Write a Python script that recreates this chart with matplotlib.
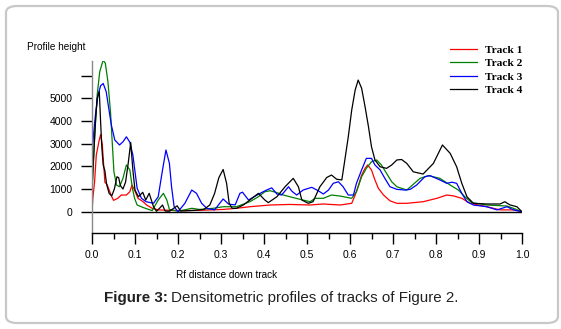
import matplotlib
matplotlib.use("Agg")
import matplotlib.pyplot as plt
from matplotlib.patches import FancyBboxPatch
import numpy as np

# ---------------- data ----------------
track_names = ["Track 1", "Track 2", "Track 3", "Track 4"]
track_colors = ["#ff0000", "#008000", "#0000ff", "#000000"]

t1_rf = [0, 0.002, 0.006, 0.01, 0.016, 0.02, 0.024, 0.027, 0.03, 0.035, 0.039, 0.045, 0.05, 0.06, 0.068, 0.08,
         0.088, 0.093, 0.099, 0.107, 0.119, 0.127, 0.14, 0.154, 0.2, 0.25, 0.305, 0.336, 0.367, 0.414, 0.46,
         0.507, 0.538, 0.577, 0.604, 0.612, 0.62, 0.627, 0.635, 0.641, 0.65, 0.658, 0.666, 0.678, 0.693, 0.709,
         0.732, 0.77, 0.802, 0.825, 0.84, 0.86, 0.879, 0.918, 0.949, 0.98, 1.0]
t1_val = [0, 590, 1320, 2500, 3080, 3400, 2940, 2100, 1300, 1200, 1000, 700, 500, 590, 735, 735,
          880, 1175, 955, 590, 440, 295, 150, 80, 50, 60, 100, 150, 220, 295, 320,
          295, 340, 295, 370, 735, 1175, 1615, 1910, 2060, 1840, 1400, 1030, 735, 480, 370,
          370, 440, 590, 735, 700, 590, 370, 220, 80, 80, 0]

t2_rf = [0, 0.006, 0.012, 0.018, 0.026, 0.031, 0.037, 0.043, 0.047, 0.051, 0.057, 0.064, 0.072, 0.08, 0.088,
         0.094, 0.099, 0.105, 0.119, 0.127, 0.14, 0.154, 0.166, 0.174, 0.18, 0.2, 0.22, 0.232, 0.25, 0.282,
         0.305, 0.336, 0.367, 0.387, 0.402, 0.414, 0.43, 0.445, 0.46, 0.484, 0.507, 0.519, 0.538, 0.557,
         0.577, 0.604, 0.615, 0.627, 0.638, 0.65, 0.662, 0.673, 0.685, 0.697, 0.709, 0.732, 0.763, 0.782,
         0.809, 0.833, 0.852, 0.867, 0.883, 0.918, 0.965, 0.98, 1.0]
t2_val = [800, 3230, 5140, 6170, 6680, 6540, 5730, 4400, 3080, 1760, 1175, 1100, 1470, 2060, 1840,
          1030, 590, 295, 185, 130, 50, 515, 810, 515, 100, 20, 100, 150, 100, 150,
          220, 220, 440, 660, 880, 925, 840, 735, 660, 545, 440, 590, 590, 735,
          690, 590, 880, 1540, 1910, 2200, 2280, 2060, 1690, 1320, 1100, 955, 1470, 1590,
          1470, 1175, 955, 660, 400, 295, 250, 150, 0]

t3_rf = [0, 0.004, 0.008, 0.014, 0.02, 0.026, 0.033, 0.039, 0.045, 0.053, 0.064, 0.072, 0.08, 0.088, 0.095,
         0.099, 0.105, 0.115, 0.126, 0.143, 0.154, 0.164, 0.172, 0.18, 0.185, 0.191, 0.2, 0.216, 0.232,
         0.243, 0.255, 0.267, 0.285, 0.305, 0.318, 0.333, 0.344, 0.35, 0.364, 0.377, 0.391, 0.406, 0.418,
         0.43, 0.441, 0.457, 0.465, 0.476, 0.491, 0.511, 0.526, 0.538, 0.55, 0.561, 0.573, 0.584, 0.596,
         0.608, 0.615, 0.627, 0.638, 0.65, 0.658, 0.67, 0.681, 0.693, 0.709, 0.728, 0.74, 0.755, 0.774,
         0.786, 0.809, 0.825, 0.837, 0.848, 0.86, 0.872, 0.887, 0.918, 0.942, 0.965, 0.98, 1.0]
t3_val = [2500, 3500, 4260, 5140, 5550, 5650, 5290, 4550, 3820, 3160, 2940, 3080, 3300, 3060, 2500,
          1910, 1030, 590, 440, 370, 660, 1840, 2720, 2130, 1100, 220, 0, 370, 955,
          810, 370, 150, 80, 560, 330, 300, 810, 860, 515, 660, 810, 955, 1050,
          780, 735, 1100, 900, 735, 955, 1075, 925, 780, 955, 1250, 1320, 1100, 735,
          735, 1250, 1840, 2350, 2350, 2060, 1840, 1470, 1100, 985, 955, 985, 1175, 1540,
          1590, 1400, 1250, 1300, 1250, 810, 440, 295, 220, 80, 220, 80, 0]

t4_rf = [0, 0.004, 0.008, 0.012, 0.017, 0.02, 0.023, 0.026, 0.03, 0.034, 0.04, 0.046, 0.052, 0.058, 0.062,
         0.066, 0.072, 0.078, 0.084, 0.09, 0.095, 0.1, 0.108, 0.118, 0.125, 0.133, 0.143, 0.15, 0.157, 0.164,
         0.17, 0.18, 0.19, 0.198, 0.206, 0.22, 0.24, 0.26, 0.274, 0.285, 0.295, 0.305, 0.313, 0.319, 0.326,
         0.336, 0.352, 0.367, 0.387, 0.402, 0.41, 0.43, 0.449, 0.468, 0.48, 0.488, 0.503, 0.514, 0.53, 0.546,
         0.557, 0.569, 0.581, 0.588, 0.596, 0.604, 0.612, 0.619, 0.627, 0.635, 0.643, 0.65, 0.658, 0.67,
         0.685, 0.697, 0.709, 0.72, 0.732, 0.747, 0.77, 0.794, 0.815, 0.833, 0.848, 0.86, 0.872, 0.887,
         0.918, 0.949, 0.96, 0.972, 0.988, 1.0]
t4_val = [1000, 2500, 3960, 5000, 5290, 3960, 2800, 2060, 1800, 1200, 800, 700, 1000, 1540, 1500,
          1150, 1000, 1300, 2100, 3050, 1850, 950, 660, 855, 515, 810, 220, 20, 150, 295,
          30, 20, 150, 260, 30, 40, 60, 100, 295, 800, 1500, 1860, 1250, 370, 150,
          150, 295, 515, 810, 515, 400, 660, 1100, 1470, 1100, 515, 370, 440, 1100, 1510,
          1615, 1430, 1400, 2280, 3300, 4480, 5360, 5800, 5440, 4630, 3740, 2860, 2280, 1980,
          1910, 2060, 2280, 2300, 2130, 1760, 1660, 2130, 2940, 2570, 1980, 1250, 660, 370,
          340, 340, 440, 300, 220, 0]

x_ticks = [0.0, 0.1, 0.2, 0.3, 0.4, 0.5, 0.6, 0.7, 0.8, 0.9, 1.0]
x_minor = [0.05, 0.15, 0.25, 0.35, 0.45, 0.55, 0.65, 0.75, 0.85, 0.95]
y_ticks = [0, 1000, 2000, 3000, 4000, 5000, 6000]
y_labels = ["0", "1000", "2000", "3000", "4000", "5000", ""]

# ---------------- figure ----------------
W, H = 561, 329
fig = plt.figure(figsize=(W / 100, H / 100), dpi=100)
fig.patch.set_facecolor("white")

def fx(px):
    return px / W

def fy(py):
    return 1 - py / H

# rounded border
border = FancyBboxPatch((fx(6), fy(323)), fx(552), 317 / H,
                        boxstyle="round,pad=0,rounding_size=0.02",
                        transform=fig.transFigure, fill=False,
                        edgecolor="#c8c8c8", linewidth=1.6)
fig.patches.append(border)

ax = fig.add_axes([fx(92), fy(233), fx(522) - fx(92), (233 - 61) / H])
tracks = [(t1_rf, t1_val), (t2_rf, t2_val), (t3_rf, t3_val), (t4_rf, t4_val)]
handles = []
for (rf, val), name, col in zip(tracks, track_names, track_colors):
    h, = ax.plot(rf, val, color=col, linewidth=0.9, label=name)
    handles.append(h)

ax.axhline(0, color="black", linewidth=1.0, zorder=1)
ax.set_xlim(0, 1)
ax.set_ylim(-938, 6640)

for s in ["top", "right"]:
    ax.spines[s].set_visible(False)
ax.spines["left"].set_color("#888888")
ax.spines["left"].set_linewidth(1.0)
ax.spines["bottom"].set_color("black")
ax.spines["bottom"].set_linewidth(1.0)

ax.set_xticks(x_ticks)
ax.set_xticklabels([f"{v:.1f}" for v in x_ticks], fontfamily="Liberation Sans", fontsize=7.5)
ax.set_xticks(x_minor, minor=True)
ax.set_yticks(y_ticks)
ax.set_yticklabels(y_labels, fontfamily="Liberation Sans", fontsize=7.5)
ax.tick_params(axis="x", which="major", direction="out", length=8, width=1, pad=4, colors="black")
ax.tick_params(axis="x", which="minor", direction="out", length=4.3, width=1, color="black")
ax.tick_params(axis="y", which="major", direction="out", length=8, width=1, pad=6, colors="black")

fig.text(fx(27), fy(47), "Profile height", ha="left", va="center",
         fontfamily="Liberation Sans", fontsize=7.2)
fig.text(fx(227), fy(275), "Rf distance down track", ha="center", va="center",
         fontfamily="Liberation Sans", fontsize=7.2)

leg = ax.legend(handles=handles, loc="upper left", bbox_to_anchor=(fx(442), fy(37)),
                bbox_transform=fig.transFigure, frameon=False,
                prop=dict(family="Liberation Serif", weight="bold", size=8.2),
                handlelength=2.4, handletextpad=0.7, labelspacing=0.3, borderpad=0.2)

# caption: bold prefix + regular text
cap_y = fy(298)
cap_fs = 10.9
bold = fig.text(fx(104), cap_y, "Figure 3:", ha="left", va="center",
                fontfamily="Liberation Sans", fontweight="bold", fontsize=cap_fs, color="#222222")
fig.canvas.draw()
bb = bold.get_window_extent()
fig.text(bb.x1 / fig.dpi / fig.get_figwidth() + fx(3), cap_y,
         "Densitometric profiles of tracks of Figure 2.", ha="left", va="center",
         fontfamily="Liberation Sans", fontsize=cap_fs, color="#222222")

fig.savefig("out.png", dpi=100)
